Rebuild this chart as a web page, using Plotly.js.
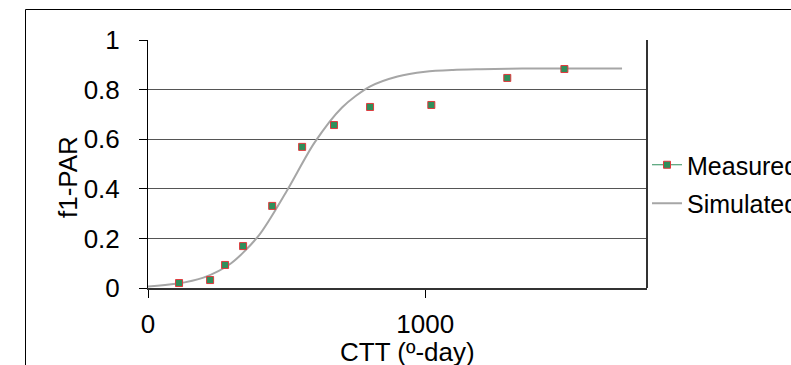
<!DOCTYPE html>
<html>
<head>
<meta charset="utf-8">
<script src="https://cdn.plot.ly/plotly-3.0.1.min.js"></script>
<style>html,body{margin:0;padding:0;background:#fff;overflow:hidden;}#chart{width:791px;height:365px;}</style>
</head>
<body>
<div id="chart"></div>
<script>
// Measured points
const measuredX = [112, 224, 278, 343, 448, 556, 671, 801, 1022, 1296, 1502];
const measuredY = [0.02, 0.032, 0.093, 0.169, 0.331, 0.569, 0.657, 0.730, 0.738, 0.847, 0.883];
// Simulated curve
const simX = [0, 100, 200, 300, 400, 500, 600, 700, 800, 900, 1000, 1100, 1200, 1300, 1400, 1500, 1600, 1710];
const simY = [0.006, 0.017, 0.042, 0.100, 0.212, 0.390, 0.585, 0.728, 0.812, 0.853, 0.872, 0.879, 0.882, 0.884, 0.885, 0.885, 0.885, 0.885];
const xTicks = [0, 1000];
const yTicks = [0, 0.2, 0.4, 0.6, 0.8, 1];
const yTickText = ['0', '0.2', '0.4', '0.6', '0.8', '1'];
const seriesNames = ['Measured', 'Simulated'];
const xTitle = 'CTT (º-day)';
const yTitle = 'f1-PAR';

const FONT = 'Liberation Sans, Arial, sans-serif';
const green = '#2f8f5b', red = '#e0393c', gray = '#a6a6a6';

const W = 791, H = 365;
const L = 148, R = 647, T = 40, B = 288;
const pw = R - L, ph = B - T;
const px = v => (v - L) / pw;
const py = v => (B - v) / ph;

const traces = [
  {x: simX, y: simY, mode: 'lines', name: seriesNames[1], line: {color: gray, width: 2, shape: 'spline', smoothing: 0.8},
   legendrank: 2, legendgroup: 'b', hoverinfo: 'skip'},
  {x: measuredX, y: measuredY, mode: 'markers', name: seriesNames[0], showlegend: false,
   marker: {symbol: 'square', size: 7, color: green, line: {color: red, width: 1}}},
  {x: [null], y: [null], mode: 'lines+markers', name: seriesNames[0], legendrank: 1, legendgroup: 'a',
   line: {color: green, width: 1},
   marker: {symbol: 'square', size: 7, color: green, line: {color: red, width: 1}}}
];

const layout = {
  width: W, height: H,
  margin: {l: L, r: W - R, t: T, b: H - B, pad: 0, autoexpand: false},
  paper_bgcolor: '#fff', plot_bgcolor: '#fff',
  font: {family: FONT, size: 26, color: '#000'},
  showlegend: true,
  legend: {x: px(647), xanchor: 'left', y: py(184), yanchor: 'middle', font: {family: FONT, size: 25, color: '#000'},
           bgcolor: 'rgba(0,0,0,0)', tracegroupgap: 3, traceorder: 'grouped'},
  xaxis: {range: [0, 1800], tickvals: xTicks, ticktext: xTicks.map(String), showgrid: false, zeroline: false,
          ticks: 'outside', ticklen: 8, tickcolor: '#000', tickwidth: 1, showline: true, linecolor: '#333', linewidth: 2,
          tickfont: {size: 26}, ticklabelstandoff: 4, fixedrange: true, automargin: false},
  yaxis: {range: [0, 1], tickvals: yTicks, ticktext: yTickText, showgrid: true, gridcolor: '#555', gridwidth: 1,
          zeroline: false, ticks: 'outside', ticklen: 8, tickcolor: '#000', tickwidth: 1, showline: true, linecolor: '#000', linewidth: 1,
          tickfont: {size: 26}, ticklabelstandoff: 14, fixedrange: true, automargin: false},
  annotations: [
    {text: yTitle, xref: 'paper', yref: 'paper', x: px(68), y: py(177), xanchor: 'center', yanchor: 'middle',
     textangle: -90, showarrow: false, font: {size: 26}},
    {text: xTitle, xref: 'paper', yref: 'paper', x: px(407), y: py(352), xanchor: 'center', yanchor: 'middle',
     showarrow: false, font: {size: 26}}
  ],
  shapes: [
    {type: 'line', xref: 'paper', yref: 'paper', x0: 1, x1: 1, y0: 0, y1: 1, line: {color: '#333', width: 2}},
    {type: 'rect', xref: 'paper', yref: 'paper', x0: px(25.5), x1: px(820), y0: py(9.5), y1: py(400), line: {color: '#000', width: 1}, layer: 'below'}
  ]
};

Plotly.newPlot('chart', traces, layout, {staticPlot: true, displayModeBar: false});
</script>
</body>
</html>
